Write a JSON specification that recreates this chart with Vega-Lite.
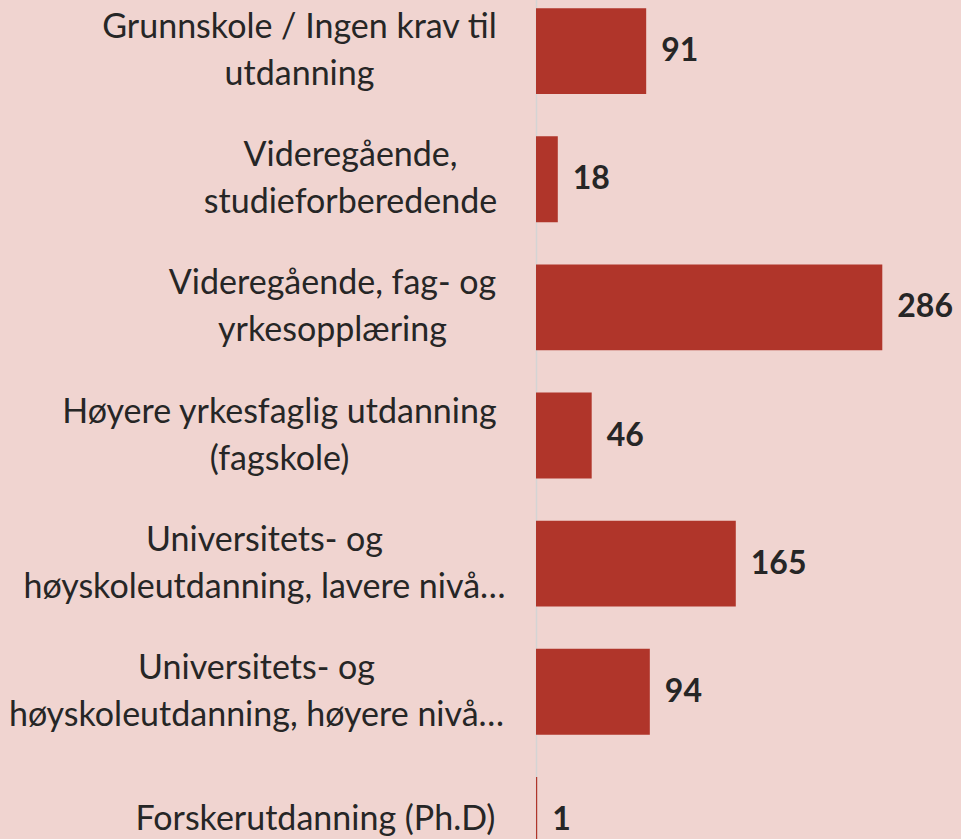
{
  "$schema": "https://vega.github.io/schema/vega-lite/v6.json",
  "autosize": {"type": "none"},
  "padding": {"left": 536, "top": 0, "right": 0, "bottom": 0},
  "width": 425,
  "height": 839,
  "background": "#F0D4D0",
  "config": {"view": {"stroke": null}},
  "data": {"values": [
    {"key": "a", "value": 91},
    {"key": "b", "value": 18},
    {"key": "c", "value": 286},
    {"key": "d", "value": 46},
    {"key": "e", "value": 165},
    {"key": "f", "value": 94},
    {"key": "g", "value": 1}
  ]},
  "encoding": {
    "y": {
      "field": "key", "type": "nominal", "sort": null,
      "scale": {"paddingInner": 0.33, "paddingOuter": 0.165, "range": [-13, 884]},
      "axis": {
        "title": null,
        "labelExpr": "datum.value == 'a' ? ['Grunnskole / Ingen krav til', 'utdanning'] : datum.value == 'b' ? ['Videregående,', 'studieforberedende'] : datum.value == 'c' ? ['Videregående, fag- og', 'yrkesopplæring'] : datum.value == 'd' ? ['Høyere yrkesfaglig utdanning', '(fagskole)'] : datum.value == 'e' ? ['Universitets- og', 'høyskoleutdanning, lavere nivå…'] : datum.value == 'f' ? ['Universitets- og', 'høyskoleutdanning, høyere nivå…'] : 'Forskerutdanning (Ph.D)'",
        "ticks": false,
        "domain": true,
        "domainColor": "#D4D4D4",
        "domainWidth": 1.5,
        "labelFont": "Lato",
        "labelFontSize": 34,
        "labelColor": "#262626",
        "labelAlign": "center",
        "labelPadding": {"expr": "datum.value == 'a' ? 237 : datum.value == 'b' ? 186 : datum.value == 'c' ? 204 : datum.value == 'd' ? 257 : datum.value == 'e' ? 272 : datum.value == 'f' ? 280 : 221"},
        "labelOffset": {"condition": {"test": "datum.value != 'g'", "value": -23}, "value": 0},
        "labelLineHeight": 47,
        "labelLimit": 600,
        "labelOverlap": false
      }
    },
    "x": {
      "field": "value", "type": "quantitative",
      "scale": {"domain": [0, 351], "nice": false},
      "axis": null
    }
  },
  "layer": [
    {"mark": {"type": "bar", "color": "#B0352A"}},
    {"mark": {"type": "text", "align": "left", "baseline": "middle", "dx": 15, "font": "Lato", "fontSize": 32, "fontWeight": "bold", "color": "#262626"},
     "encoding": {"text": {"field": "value", "type": "quantitative"}}}
  ]
}
